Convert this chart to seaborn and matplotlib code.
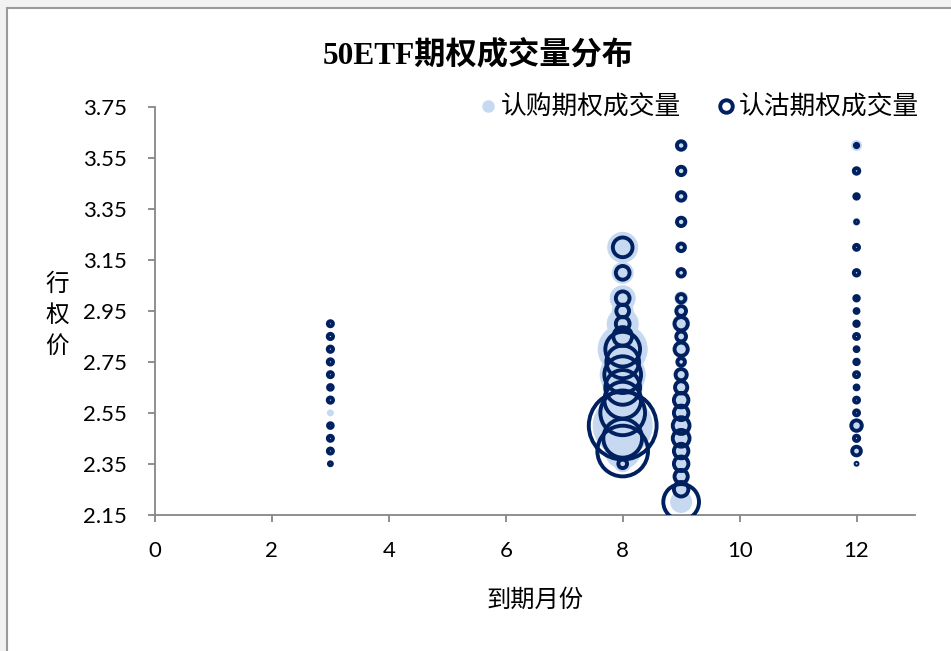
import numpy as np
import pandas as pd
import matplotlib
matplotlib.use("Agg")
import matplotlib.pyplot as plt
from matplotlib.lines import Line2D
from matplotlib.patches import Rectangle
import seaborn as sns

# ---------------- data ----------------
strikes_m3 = [2.90, 2.85, 2.80, 2.75, 2.70, 2.65, 2.60, 2.55, 2.50, 2.45, 2.40, 2.35]
call_m3 = [100, 100, 100, 100, 100, 100, 100, 480, 100, 100, 100, 50]
put_m3 = [260, 280, 280, 280, 260, 220, 280, 0, 220, 260, 260, 90]

strikes_m8 = [3.20, 3.10, 3.00, 2.95, 2.90, 2.85, 2.80, 2.75, 2.70, 2.65, 2.60,
              2.55, 2.50, 2.45, 2.40, 2.35]
call_m8 = [9610, 4840, 6760, 4840, 10240, 7840, 25000, 16000, 21160, 16000, 14440,
           19360, 36000, 16000, 12960, 2890]
put_m8 = [3880, 1880, 1880, 1610, 1880, 3500, 12040, 10690, 13470, 12040, 13470,
          19980, 46000, 14980, 25700, 760]

strikes_m9 = [3.60, 3.50, 3.40, 3.30, 3.20, 3.10, 3.00, 2.95, 2.90, 2.85, 2.80, 2.75,
              2.70, 2.65, 2.60, 2.55, 2.50, 2.45, 2.40, 2.35, 2.30, 2.25, 2.20]
call_m9 = [1690, 1210, 1690, 1210, 1440, 1000, 1960, 1000, 3240, 1440, 1960, 1440,
           1440, 1440, 1440, 1440, 1690, 1440, 1440, 1440, 1440, 2560, 4840]
put_m9 = [700, 700, 700, 700, 560, 560, 700, 950, 1750, 950, 1750, 560,
          1250, 1500, 2100, 2100, 2800, 2800, 2100, 2100, 1750, 2100, 12750]

strikes_m12 = [3.60, 3.50, 3.40, 3.30, 3.20, 3.10, 3.00, 2.95, 2.90, 2.85, 2.80,
               2.75, 2.70, 2.65, 2.60, 2.55, 2.50, 2.45, 2.40, 2.35]
call_m12 = [1210, 810, 250, 640, 250, 490, 250, 250, 250, 250, 250,
            250, 250, 250, 250, 250, 490, 250, 250, 160]
put_m12 = [110, 300, 200, 80, 250, 300, 200, 150, 200, 250, 150,
           200, 250, 150, 250, 250, 1100, 280, 750, 40]

months = [3, 8, 9, 12]
x_ticks = [0, 2, 4, 6, 8, 10, 12]
y_ticks = [3.75, 3.55, 3.35, 3.15, 2.95, 2.75, 2.55, 2.35, 2.15]

title = "50ETF期权成交量分布"
call_label = "认购期权成交量"
put_label = "认沽期权成交量"
x_label = "到期月份"
y_label = "行\n权\n价"

# ---------------- tables ----------------
def build(strike_lists, vol_lists):
    frames = []
    for m, s, v in zip(months, strike_lists, vol_lists):
        frames.append(pd.DataFrame({"month": m, "strike": s, "volume": v}))
    df = pd.concat(frames, ignore_index=True)
    return df[df["volume"] > 0]

df_call = build([strikes_m3, strikes_m8, strikes_m9, strikes_m12],
                [call_m3, call_m8, call_m9, call_m12])
df_put = build([strikes_m3, strikes_m8, strikes_m9, strikes_m12],
               [put_m3, put_m8, put_m9, put_m12])

# ---------------- style ----------------
sns.set_theme(style="white")
plt.rcParams["font.family"] = ["Noto Sans CJK SC", "DejaVu Sans"]
plt.rcParams["text.color"] = "black"

call_color = "#C6D9F0"
put_color = "#002060"
axis_gray = "#868686"

W, H = 951, 651
fig = plt.figure(figsize=(W / 100, H / 100), dpi=100)
fig.patch.set_facecolor("#F2F2F2")
fig.patches.append(Rectangle((7 / W, -0.05), 1.2, 1 - 8 / H + 0.05,
                             transform=fig.transFigure, facecolor="white",
                             edgecolor="#9A9A9A", linewidth=1.5, zorder=-5))

ax = fig.add_axes([155 / W, 1 - 514.7 / H, 760 / W, (514.7 - 107.3) / H])
ax.set_facecolor("none")

vmax = max(df_call["volume"].max(), df_put["volume"].max())
smax = vmax * 0.05184

sns.scatterplot(data=df_call, x="month", y="strike", size="volume",
                sizes=(0, smax), size_norm=(0, vmax), color=call_color,
                edgecolor="none", linewidth=0, legend=False, ax=ax, zorder=2)
sns.scatterplot(data=df_put, x="month", y="strike", size="volume",
                sizes=(0, smax), size_norm=(0, vmax), color=put_color,
                facecolor="none", edgecolor=put_color, linewidth=2.8,
                legend=False, ax=ax, zorder=3)

ax.set_xlim(0, 13)
ax.set_ylim(2.15, 3.75)
ax.set_xticks(x_ticks)
ax.set_yticks(y_ticks)
ax.set_yticklabels([f"{v:.2f}" for v in y_ticks])
ax.set_xlabel("")
ax.set_ylabel("")
for side in ["top", "right"]:
    ax.spines[side].set_visible(False)
for side in ["left", "bottom"]:
    ax.spines[side].set_color(axis_gray)
    ax.spines[side].set_linewidth(1.3)
ax.tick_params(axis="both", direction="out", length=5, width=1.3, color=axis_gray,
               labelsize=16, labelcolor="black", left=True, bottom=True)
ax.tick_params(axis="y", pad=15)
ax.tick_params(axis="x", pad=14)
for lab in ax.get_xticklabels() + ax.get_yticklabels():
    lab.set_family(["Lato", "DejaVu Sans"])

# titles and labels
fig.text(478 / W, 1 - 55 / H, title, ha="center", va="center", fontsize=22.5,
         fontweight="bold", color="black",
         family=["Liberation Serif", "Noto Sans CJK SC"])
fig.text(535 / W, 1 - 600 / H, x_label, ha="center", va="center", fontsize=17.5,
         color="black")
fig.text(57 / W, 1 - 315 / H, y_label, ha="center", va="center", fontsize=17,
         linespacing=1.45, color="black")

handles = [
    Line2D([], [], marker="o", linestyle="none", markersize=8,
           markerfacecolor=call_color, markeredgecolor=call_color),
    Line2D([], [], marker="o", linestyle="none", markersize=9,
           markerfacecolor="white", markeredgecolor=put_color, markeredgewidth=2.8),
]
leg = fig.legend(handles, [call_label, put_label], ncol=2, frameon=False,
                 loc="center", bbox_to_anchor=(699 / W, 1 - 108 / H),
                 fontsize=18.5, handlelength=0.7, handletextpad=0.15,
                 columnspacing=1.4)
for t in leg.get_texts():
    t.set_color("black")

fig.savefig("out.png", dpi=100)
